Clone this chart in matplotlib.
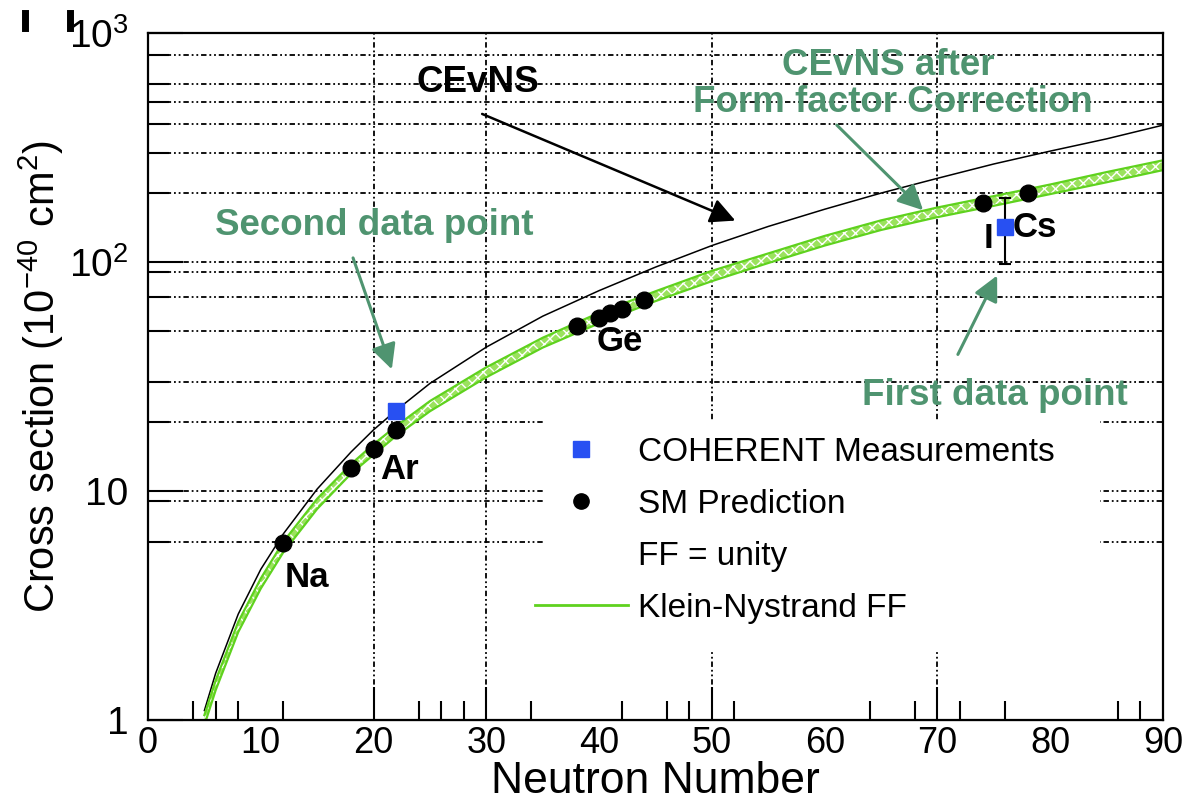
import matplotlib
matplotlib.use('Agg')
import matplotlib.pyplot as plt
from matplotlib.lines import Line2D
from matplotlib.patches import Rectangle

plt.rcParams['font.family'] = ['Liberation Sans', 'DejaVu Sans']
plt.rcParams['mathtext.fontset'] = 'custom'
plt.rcParams['mathtext.rm'] = 'Liberation Sans'
plt.rcParams['mathtext.it'] = 'Liberation Sans:italic'
plt.rcParams['mathtext.bf'] = 'Liberation Sans:bold'

# neutron number grid of the cross-section curves
n_curve = [5, 6, 8, 10, 12, 15, 18, 20, 22, 25, 30, 35, 40, 45, 50, 55, 60, 65, 70, 75, 80, 85, 90]
# CEvNS with form factor = 1
xs_unity = [1.1, 1.6, 2.9, 4.55, 6.5, 10.2, 14.8, 18.5, 22.5, 29.5, 42.5, 58, 75, 95, 118,
            143, 170, 200, 232, 268, 305, 345, 396]
# Klein-Nystrand form factor band (lower / upper edge)
xs_kn_lo = [0.95, 1.35, 2.42, 3.75, 5.4, 8.35, 11.9, 14.4, 17.4, 22.3, 31.4, 42.3, 54, 67.5, 82.5,
            99, 118, 138, 157, 176, 198, 223, 252]
xs_kn_hi = [1.05, 1.49, 2.68, 4.15, 6.0, 9.25, 13.1, 16.0, 19.2, 24.7, 34.7, 46.7, 60, 74.5, 91.5,
            109, 130, 152, 173, 194, 218, 247, 278]

# SM predictions for the target isotopes (Na, Ar, Ge, I, Cs)
sm_n = [12, 18, 20, 22, 38, 40, 41, 42, 44, 74, 78]
sm_xs = [5.9, 12.6, 15.2, 18.5, 52.6, 56.9, 59.9, 62.3, 68.2, 181, 200]

# COHERENT measurements (Ar, CsI)
meas_n = [22, 76]
meas_xs = [22.4, 142]
meas_err_lo = [0, 44]
meas_err_hi = [0, 48]

x_labels = [0, 10, 20, 30, 40, 50, 60, 70, 80, 90]
x_long_ticks = [20, 30, 50, 70]
x_short_ticks = [4, 6, 8, 12, 24, 26, 28, 34, 42, 46, 48, 52, 64, 68, 72, 76, 86, 88]
y_major = [1, 10, 100, 1000]
y_major_labels = ['1', '10', '$10^{2}$', '$10^{3}$']
y_minor = [6, 9, 20, 30, 50, 70, 90, 200, 300, 400, 500, 600, 800]

note_green = '#4f9470'
kn_green = '#5fd21e'

fig = plt.figure(figsize=(11.84, 8.05), dpi=100)
ax = fig.add_axes([0.125, 0.1056, 0.8573, 0.8534])
ax.set_yscale('log')
ax.set_xlim(0, 90)
ax.set_ylim(1, 1000)

# dash-dot grid
grid_kw = dict(color='black', lw=1.3, dashes=(3, 1.6, 1, 1.6, 1, 1.6), zorder=1)
for v in x_long_ticks:
    ax.axvline(v, **grid_kw)
for v in y_minor + [10, 100]:
    ax.axhline(v, **grid_kw)

# curves
ax.plot(n_curve, xs_unity, color='black', lw=1.1, zorder=3)
ax.fill_between(n_curve, xs_kn_lo, xs_kn_hi, facecolor='#9be25e', edgecolor='white',
                hatch='xxx', lw=0, zorder=3)
ax.plot(n_curve, xs_kn_lo, color=kn_green, lw=1.6, zorder=3)
ax.plot(n_curve, xs_kn_hi, color=kn_green, lw=1.6, zorder=3)

# points
ax.plot(sm_n, sm_xs, 'o', color='black', ms=12, zorder=5)
ax.errorbar(meas_n, meas_xs, yerr=[meas_err_lo, meas_err_hi], fmt='none', ecolor='black',
            elinewidth=1.5, capsize=4, capthick=1.5, zorder=5)
ax.plot(meas_n, meas_xs, 's', color='#2850f2', ms=12, zorder=6)

# element labels
lab_kw = dict(fontsize=25, fontweight='bold', ha='center', va='center', zorder=7)
ax.text(14.1, 4.17, 'Na', **lab_kw)
ax.text(22.3, 12.4, 'Ar', **lab_kw)
ax.text(41.8, 44.8, 'Ge', **lab_kw)
ax.text(78.6, 141, 'Cs', **lab_kw)
ax.text(74.5, 127, 'I', **lab_kw)

# annotations
note_kw = dict(fontsize=26.5, fontweight='bold', ha='center', va='center', zorder=7)
ax.text(29.2, 610, 'CEvNS', color='black', **note_kw)
ax.text(65.6, 720, 'CEvNS after', color=note_green, **note_kw)
ax.text(66.0, 495, 'Form factor Correction', color=note_green, **note_kw)
ax.text(20.1, 145, 'Second data point', color=note_green, **note_kw)
ax.text(75.1, 26.2, 'First data point', color=note_green, **note_kw)

ax.annotate('', xy=(52.3, 150), xytext=(29.4, 448),
            arrowprops=dict(arrowstyle='-|>', color='black', lw=1.8, mutation_scale=38), zorder=6)
green_arrow = dict(arrowstyle='-|>', color=note_green, lw=2.2, mutation_scale=38)
ax.annotate('', xy=(68.9, 165), xytext=(60.9, 404), arrowprops=green_arrow, zorder=6)
ax.annotate('', xy=(21.7, 33.1), xytext=(18.1, 107), arrowprops=green_arrow, zorder=6)
ax.annotate('', xy=(75.4, 89.5), xytext=(71.7, 38.5), arrowprops=green_arrow, zorder=6)

# white legend box
ax.add_patch(Rectangle((0.391, 0.102), 0.547, 0.335, transform=ax.transAxes,
                       facecolor='white', edgecolor='none', zorder=2.5))
handles = [
    Line2D([], [], marker='s', color='#2850f2', ls='none', ms=11),
    Line2D([], [], marker='o', color='black', ls='none', ms=11),
    Line2D([], [], color='none'),
    Line2D([], [], color=kn_green, lw=2),
]
labels = ['COHERENT Measurements', 'SM Prediction', 'FF = unity', 'Klein-Nystrand FF']
leg = ax.legend(handles, labels, loc='upper left', bbox_to_anchor=(0.381, 0.412),
                frameon=False, fontsize=24, handlelength=2.8, handletextpad=0.3,
                labelspacing=0.63, borderpad=0, borderaxespad=0)
leg.set_zorder(8)

# axes, ticks
for s in ax.spines.values():
    s.set_linewidth(1.6)
    s.set_zorder(9)
ax.set_xticks(x_labels)
ax.set_xticks(x_short_ticks, minor=True)
ax.tick_params(axis='x', which='major', length=0, labelsize=26, pad=4)
ax.tick_params(axis='x', which='minor', direction='in', length=14, width=1.5)
sec = ax.secondary_xaxis('bottom')
sec.set_xticks(x_long_ticks)
sec.tick_params(direction='in', length=24, width=1.5, labelbottom=False)

ax.set_yticks(y_major)
ax.set_yticklabels(y_major_labels)
ax.set_yticks(y_minor, minor=True)
ax.set_yticklabels([], minor=True)
ax.tick_params(axis='y', which='major', direction='in', length=25, width=1.5, labelsize=28, pad=14)
ax.tick_params(axis='y', which='minor', direction='in', length=15, width=1.5)

ax.set_xlabel('Neutron Number', fontsize=32, labelpad=0)
ax.set_ylabel('Cross section (10$^{-40}$ cm$^{2}$)', fontsize=30, labelpad=2)

for xf in (0.021, 0.059):
    fig.add_artist(Line2D([xf, xf], [0.965, 0.984], transform=fig.transFigure, lw=5, color='black'))

fig.savefig('out.png', dpi=100)
plt.close(fig)
